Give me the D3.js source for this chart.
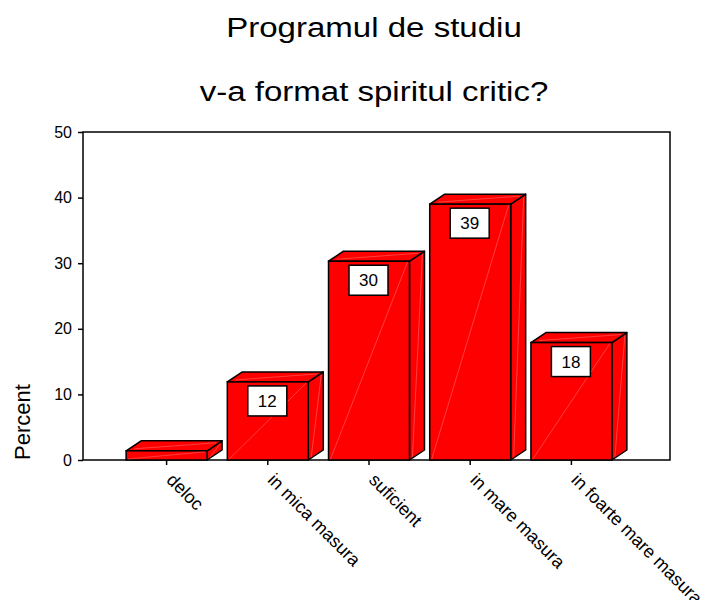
<!DOCTYPE html>
<html lang="ro">
<head>
    <meta charset="UTF-8">
    <title>Programul de studiu v-a format spiritul critic?</title>
    <script src="https://d3js.org/d3.v7.min.js"></script>
    <style>
        body { margin: 0; background: #fff; }
        text { font-family: "Liberation Sans", Arial, sans-serif; fill: #000; }
    </style>
</head>
<body>
    <div id="chart"></div>
    <script>
        // Date
        const categories = ["deloc", "in mica masura", "suficient", "in mare masura", "in foarte mare masura"];
        const percents = [1.4, 11.9, 30.3, 39.0, 17.9];
        const yTicks = [0, 10, 20, 30, 40, 50];
        const titleLines = ["Programul de studiu", "v-a format spiritul critic?"];

        const width = 706, height = 600;
        const frame = {left: 83, right: 670, top: 132, bottom: 460};
        const depth = {dx: 15, dy: -10};

        const svg = d3.select("#chart").append("svg")
            .attr("width", width)
            .attr("height", height);

        const x = d3.scaleBand()
            .domain(categories)
            .range([116, 622])
            .paddingInner(0.2)
            .paddingOuter(0.1);

        const y = d3.scaleLinear()
            .domain([0, 50])
            .range([frame.bottom, frame.top]);

        // Titlu
        svg.selectAll(".title")
            .data(titleLines)
            .enter().append("text")
            .attr("class", "title")
            .attr("text-anchor", "middle")
            .attr("font-size", 28)
            .attr("transform", (d, i) => `translate(374,${37 + i * 64}) scale(1.18,1)`)
            .text(d => d);

        // Cadru
        svg.append("rect")
            .attr("x", frame.left)
            .attr("y", frame.top)
            .attr("width", frame.right - frame.left)
            .attr("height", frame.bottom - frame.top)
            .attr("fill", "none")
            .attr("stroke", "#000")
            .attr("stroke-width", 1.5);

        // Axa Y
        const yAxis = svg.append("g")
            .attr("transform", `translate(${frame.left},0)`)
            .call(d3.axisLeft(y).tickValues(yTicks).tickSize(5).tickPadding(6));
        yAxis.select(".domain").remove();
        yAxis.selectAll(".tick line").attr("stroke", "#000").attr("stroke-width", 1.5);
        yAxis.selectAll(".tick text")
            .attr("font-size", 16)
            .attr("font-family", "Liberation Sans, Arial, sans-serif")
            .attr("fill", "#000");

        svg.append("text")
            .attr("transform", "translate(30,422) rotate(-90)")
            .attr("text-anchor", "middle")
            .attr("font-size", 22)
            .text("Percent");

        // Axa X
        const xAxis = svg.append("g")
            .attr("transform", `translate(0,${frame.bottom})`)
            .call(d3.axisBottom(x).tickSize(5).tickSizeOuter(0));
        xAxis.select(".domain").remove();
        xAxis.selectAll(".tick line").attr("stroke", "#000").attr("stroke-width", 1.5);
        xAxis.selectAll(".tick text")
            .attr("font-size", 18)
            .attr("font-family", "Liberation Sans, Arial, sans-serif")
            .attr("fill", "#000")
            .attr("text-anchor", "start")
            .attr("x", 0)
            .attr("y", 0)
            .attr("dy", "0.71em")
            .attr("transform", "translate(8,12) rotate(45)");

        // Bare 3D
        const bars = svg.append("g")
            .selectAll("g")
            .data(categories.map((c, i) => ({cat: c, value: percents[i]})))
            .enter().append("g");

        const faces = d => {
            const x0 = x(d.cat), x1 = x0 + x.bandwidth();
            const yt = y(d.value), yb = y(0);
            return {x0, x1, yt, yb};
        };

        // fata laterala
        bars.append("path")
            .attr("d", d => {
                const f = faces(d);
                return `M${f.x1},${f.yt}L${f.x1 + depth.dx},${f.yt + depth.dy}L${f.x1 + depth.dx},${f.yb + depth.dy}L${f.x1},${f.yb}Z`;
            })
            .attr("fill", "#ff0000")
            .attr("stroke", "#000")
            .attr("stroke-width", 1.5)
            .attr("stroke-linejoin", "round");

        // fata de sus
        bars.append("path")
            .attr("d", d => {
                const f = faces(d);
                return `M${f.x0},${f.yt}L${f.x0 + depth.dx},${f.yt + depth.dy}L${f.x1 + depth.dx},${f.yt + depth.dy}L${f.x1},${f.yt}Z`;
            })
            .attr("fill", "#ff0000")
            .attr("stroke", "#000")
            .attr("stroke-width", 1.5)
            .attr("stroke-linejoin", "round");

        // fata din fata
        bars.append("rect")
            .attr("x", d => faces(d).x0)
            .attr("y", d => faces(d).yt)
            .attr("width", x.bandwidth())
            .attr("height", d => faces(d).yb - faces(d).yt)
            .attr("fill", "#ff0000")
            .attr("stroke", "#000")
            .attr("stroke-width", 1.5);

        // linii fine de reflexie
        bars.append("path")
            .attr("d", d => {
                const f = faces(d);
                return `M${f.x0 + 2},${f.yb - 1}L${f.x1 - 2},${f.yt + 1}` +
                    `M${f.x1 + 3},${f.yb - 3}L${f.x1 + depth.dx - 2},${f.yt + depth.dy + 3}` +
                    `M${f.x0 + 8},${f.yt - 2}L${f.x1 + depth.dx - 6},${f.yt + depth.dy + 2}`;
            })
            .attr("fill", "none")
            .attr("stroke", "#ffffff")
            .attr("stroke-opacity", 0.35)
            .attr("stroke-width", 0.7);

        // Etichete valori
        const labelled = bars.filter(d => y(0) - y(d.value) > 36);
        labelled.append("rect")
            .attr("x", d => x(d.cat) + x.bandwidth() / 2 - 20)
            .attr("y", d => y(d.value) + 4)
            .attr("width", 39)
            .attr("height", 30)
            .attr("fill", "#fff")
            .attr("stroke", "#000")
            .attr("stroke-width", 1.5);
        labelled.append("text")
            .attr("x", d => x(d.cat) + x.bandwidth() / 2 - 0.5)
            .attr("y", d => y(d.value) + 25)
            .attr("text-anchor", "middle")
            .attr("font-size", 17)
            .text(d => d3.format(".0f")(d.value));
    </script>
</body>
</html>
